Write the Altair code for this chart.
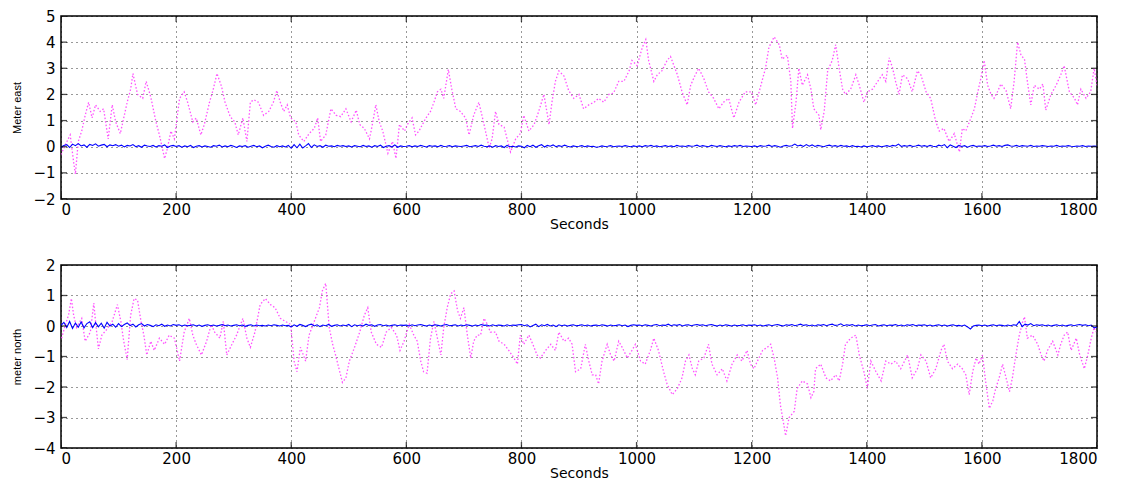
import altair as alt
import pandas as pd

SECONDS_TICKS = [0, 200, 400, 600, 800, 1000, 1200, 1400, 1600, 1800]
EAST_TICKS = [-2, -1, 0, 1, 2, 3, 4, 5]
NORTH_TICKS = [-4, -3, -2, -1, 0, 1, 2]
BLUE_STEP = 5

# magenta (dotted) trace, east component: (seconds, metres)
EAST_DOTTED = [(0,-0.3),(7,0.05),(16,0.45),(22,-0.6),(25,-1.05),(30,0.2),(36,0.6),(42,1.2),(48,1.7),(54,1.1),(60,1.6),(68,1.35),(74,1.45),(82,0.3),(89,1.6),(95,0.95),(103,0.5),(109,1.1),(115,1.7),(121,2.2),(125,2.8),(133,2.0),(142,1.85),(148,2.5),(156,1.9),(165,0.95),(171,0.45),(180,-0.45),(185,-0.05),(191,0.6),(197,0.3),(206,1.85),(214,2.1),(220,1.7),(229,0.95),(235,1.1),(243,0.45),(249,0.85),(258,1.7),(264,2.15),(271,2.8),(279,2.3),(285,1.7),(294,1.15),(302,0.95),(308,0.45),(316,1.1),(323,0.2),(329,1.7),(335,1.8),(343,1.7),(352,1.2),(361,1.35),(369,1.7),(375,2.15),(381,1.7),(387,1.35),(393,1.6),(399,1.1),(408,0.95),(413,0.45),(422,0.2),(431,0.5),(440,0.7),(446,1.1),(451,0.2),(460,0.45),(469,1.45),(478,1.2),(486,1.15),(495,1.45),(504,0.95),(513,1.4),(519,0.85),(527,0.7),(536,0.3),(541,0.85),(547,1.6),(553,0.95),(559,0.6),(568,-0.25),(576,0.2),(582,-0.45),(588,0.85),(597,0.6),(602,0.85),(610,1.1),(616,0.45),(622,0.6),(628,0.85),(634,1.1),(642,1.35),(648,1.7),(654,2.1),(660,2.2),(665,1.85),(673,2.95),(679,2.2),(686,1.45),(694,1.35),(703,1.1),(709,0.45),(717,1.2),(726,1.7),(735,0.85),(744,-0.05),(749,0.3),(755,1.35),(761,0.85),(770,0.75),(775,0.3),(781,-0.2),(790,0.3),(798,0.5),(804,1.2),(813,0.6),(822,0.85),(830,1.35),(839,2.0),(848,0.85),(853,1.7),(859,2.5),(865,2.9),(874,2.7),(882,2.15),(891,1.85),(900,2.0),(908,1.45),(917,1.6),(926,1.7),(934,1.85),(943,1.7),(952,2.0),(960,2.05),(969,2.5),(978,2.5),(987,2.9),(992,3.3),(1001,3.1),(1010,3.8),(1016,4.1),(1021,3.3),(1030,2.5),(1036,2.75),(1044,2.9),(1053,3.3),(1059,3.45),(1065,3.1),(1071,2.75),(1079,2.1),(1088,1.6),(1094,2.35),(1102,2.75),(1108,3.0),(1117,2.6),(1125,2.1),(1134,1.85),(1143,1.45),(1151,1.7),(1160,1.85),(1169,1.1),(1178,1.7),(1189,2.1),(1200,2.1),(1207,1.6),(1216,2.35),(1224,3.0),(1230,3.8),(1239,4.2),(1248,3.9),(1253,3.35),(1262,3.5),(1268,2.5),(1271,0.7),(1277,1.7),(1282,3.0),(1288,2.35),(1297,2.75),(1303,2.2),(1308,1.45),(1317,1.2),(1320,0.65),(1326,1.35),(1332,2.9),(1340,3.3),(1346,3.9),(1352,3.0),(1358,2.2),(1363,2.0),(1372,2.2),(1381,2.75),(1387,2.35),(1395,1.7),(1401,2.1),(1410,2.2),(1419,2.5),(1427,2.75),(1433,2.5),(1439,3.4),(1445,3.0),(1450,2.5),(1456,2.0),(1462,2.75),(1471,2.6),(1479,2.1),(1488,2.9),(1494,2.75),(1503,2.1),(1511,1.85),(1520,0.95),(1526,0.6),(1534,0.7),(1543,0.2),(1552,0.5),(1561,-0.2),(1566,0.7),(1572,0.6),(1581,1.1),(1587,1.45),(1592,2.0),(1598,2.6),(1604,3.3),(1610,2.35),(1616,2.0),(1621,1.85),(1627,2.1),(1633,2.4),(1642,2.15),(1650,1.45),(1656,2.5),(1662,4.0),(1668,3.5),(1674,3.35),(1679,2.5),(1685,1.6),(1691,2.35),(1700,2.2),(1706,2.4),(1711,1.4),(1720,2.0),(1729,2.35),(1737,2.75),(1743,3.1),(1752,2.1),(1761,1.85),(1766,1.6),(1772,2.2),(1781,1.85),(1789,2.1),(1795,3.0),(1800,2.35)]

# magenta (dotted) trace, north component
NORTH_DOTTED = [(1,-0.4),(7,0.0),(13,0.35),(18,0.9),(22,0.35),(27,-0.05),(36,0.25),(42,-0.5),(51,-0.2),(57,0.75),(60,0.15),(65,-0.75),(71,-0.3),(80,-0.1),(89,0.15),(98,0.7),(104,0.15),(109,-0.5),(115,-1.1),(121,0.35),(127,0.9),(133,0.85),(139,0.15),(144,-0.3),(149,-0.95),(156,-0.5),(162,-0.8),(171,-0.4),(180,-0.6),(188,-0.3),(197,-0.4),(206,-1.15),(214,-0.2),(223,0.25),(229,-0.3),(235,-0.6),(244,-0.95),(253,-0.5),(261,0.05),(267,-0.2),(276,-0.4),(282,0.15),(288,-0.95),(297,-0.6),(305,-0.3),(316,0.25),(323,-0.4),(329,-0.7),(337,-0.2),(346,0.7),(355,0.9),(364,0.7),(372,0.6),(381,0.25),(390,0.15),(399,0.05),(405,-1.15),(410,-1.5),(416,-0.7),(425,-1.15),(431,-0.3),(440,0.15),(449,0.6),(454,1.15),(460,1.4),(466,-0.05),(472,-0.6),(477,-0.95),(483,-1.4),(489,-1.85),(495,-1.7),(501,-1.15),(510,-0.7),(519,-0.2),(527,0.35),(533,0.6),(539,-0.2),(548,-0.6),(557,-0.7),(565,-0.2),(574,-0.05),(583,-0.3),(589,-0.8),(596,-0.5),(605,0.05),(613,-0.3),(619,-0.5),(625,-1.15),(630,-1.5),(636,-1.55),(642,-0.4),(648,0.15),(654,-0.4),(660,-0.95),(665,-0.05),(671,0.6),(677,1.05),(683,1.15),(689,0.5),(694,0.25),(700,0.6),(706,-0.3),(712,-1.05),(717,-0.5),(723,-0.3),(729,-0.3),(735,0.25),(741,0.05),(746,-0.2),(755,-0.2),(761,-0.5),(770,-0.6),(778,-0.8),(787,-1.05),(793,-1.25),(798,-0.3),(804,-0.6),(813,-0.3),(822,-0.7),(827,-0.95),(833,-1.05),(842,-0.8),(851,-0.6),(859,-0.8),(865,-0.2),(874,-0.5),(882,-0.4),(888,-0.6),(894,-1.5),(903,-1.4),(911,-0.6),(917,-1.15),(923,-1.6),(929,-1.6),(934,-1.9),(940,-1.15),(949,-0.6),(955,-0.95),(961,-1.15),(969,-0.5),(975,-0.7),(984,-1.05),(992,-0.8),(998,-0.6),(1007,-1.15),(1015,-1.25),(1024,-0.8),(1030,-0.4),(1038,-0.8),(1047,-1.5),(1053,-1.9),(1062,-2.25),(1071,-2.05),(1079,-1.7),(1085,-1.15),(1091,-0.95),(1097,-1.4),(1102,-1.6),(1108,-1.15),(1117,-1.05),(1125,-0.6),(1131,-1.25),(1140,-1.6),(1149,-1.4),(1157,-1.8),(1166,-1.25),(1175,-0.95),(1183,-1.15),(1192,-0.8),(1198,-1.25),(1204,-1.4),(1210,-1.15),(1219,-0.8),(1227,-0.7),(1233,-0.6),(1239,-1.05),(1245,-1.7),(1250,-2.6),(1256,-3.25),(1259,-3.6),(1265,-3.0),(1274,-2.8),(1279,-2.05),(1288,-1.8),(1297,-1.9),(1303,-2.35),(1308,-2.15),(1311,-1.4),(1320,-1.25),(1329,-1.7),(1337,-1.8),(1346,-1.6),(1352,-1.8),(1358,-1.25),(1363,-0.6),(1372,-0.4),(1381,-0.3),(1387,-0.95),(1395,-1.5),(1401,-2.05),(1407,-1.15),(1416,-1.5),(1425,-1.8),(1433,-1.15),(1442,-1.25),(1450,-1.15),(1459,-1.4),(1471,-0.95),(1479,-1.7),(1488,-1.4),(1494,-0.95),(1503,-1.15),(1511,-1.7),(1520,-1.4),(1529,-0.8),(1534,-0.6),(1540,-1.15),(1549,-1.4),(1558,-1.25),(1566,-1.4),(1572,-1.6),(1578,-2.25),(1584,-1.5),(1590,-1.05),(1595,-1.25),(1601,-0.95),(1607,-1.9),(1613,-2.7),(1619,-2.45),(1624,-2.05),(1630,-1.7),(1636,-1.25),(1642,-1.7),(1648,-2.15),(1653,-1.7),(1659,-0.95),(1665,-0.3),(1671,0.15),(1674,0.3),(1679,-0.4),(1688,-0.3),(1697,-0.6),(1703,-0.95),(1708,-1.15),(1714,-0.8),(1723,-0.5),(1732,-0.95),(1737,-0.6),(1743,-0.3),(1749,-0.2),(1755,-0.8),(1764,-0.4),(1770,-0.95),(1778,-1.4),(1784,-0.95),(1790,-0.4),(1795,-0.05),(1798,-0.2)]

# blue (solid) trace, east, every 5 s
EAST_SOLID = [
-0.02,0.05,0.08,-0.03,0.10,0.04,0.12,0.03,0.07,-0.02,0.09,0.05,0.11,0.02,0.06,0.09,0.00,0.07,0.04,0.08,
0.02,0.06,-0.01,0.05,0.03,0.08,0.00,0.04,-0.02,0.06,0.03,0.01,0.05,-0.01,0.04,0.02,0.07,-0.03,0.03,0.05,
0.01,0.04,-0.02,0.03,0.00,0.05,-0.03,0.02,0.04,-0.01,0.03,0.01,-0.02,0.04,0.02,0.06,-0.01,0.03,0.00,0.05,
0.02,-0.03,0.03,0.01,0.04,-0.02,0.02,0.05,0.00,0.03,-0.04,0.02,0.06,0.01,-0.02,0.04,0.00,0.03,-0.01,0.05,
-0.06,0.08,-0.04,0.10,-0.05,0.03,0.12,-0.03,0.07,0.01,0.04,-0.02,0.06,0.02,0.03,0.00,0.05,0.02,0.04,0.01,
0.03,-0.01,0.04,0.02,0.00,0.05,0.01,0.03,-0.02,0.04,0.01,0.06,-0.03,0.02,0.04,-0.01,0.07,-0.02,0.03,0.01,
0.02,0.04,0.00,0.03,0.01,0.05,0.02,-0.01,0.04,0.02,0.03,0.00,0.05,0.01,0.02,0.04,0.00,0.03,0.02,0.01,
0.03,0.05,0.00,0.02,0.04,0.01,0.06,0.02,0.00,0.03,-0.02,0.04,0.01,0.03,-0.03,0.05,0.00,0.02,-0.01,0.03,
0.02,-0.04,0.05,0.00,0.06,-0.02,0.04,0.08,-0.01,0.05,0.02,0.07,0.00,0.04,0.01,0.06,0.02,-0.01,0.03,0.01,
0.02,0.04,0.00,0.03,0.01,0.02,-0.02,0.00,0.03,0.01,0.02,0.04,0.00,0.02,0.03,0.01,0.04,0.02,0.00,0.03,
0.01,0.03,0.00,0.04,0.02,0.05,0.01,0.03,0.00,0.02,0.04,0.01,0.03,0.00,0.05,0.02,0.03,0.01,0.04,0.02,
0.03,0.06,0.01,0.04,0.02,0.00,0.05,0.03,0.01,0.04,0.02,0.00,0.03,0.01,0.04,0.02,0.05,0.01,0.03,0.02,
0.01,0.03,0.00,0.04,0.02,0.03,0.06,0.01,0.04,0.02,-0.02,0.03,0.05,0.02,0.04,0.10,0.03,0.06,0.01,0.08,
0.02,0.07,0.01,0.05,0.03,0.00,0.04,0.06,0.02,0.04,0.01,0.05,0.02,0.03,0.00,0.04,0.01,0.02,-0.01,0.03,
0.00,0.02,0.04,0.01,0.03,0.00,0.02,0.04,0.01,0.05,0.03,0.10,0.01,0.04,0.02,0.05,0.01,0.03,0.06,0.02,
0.04,0.01,0.05,0.02,0.00,0.06,0.03,0.08,-0.04,0.07,0.02,-0.03,0.05,0.01,0.04,-0.02,0.03,0.05,0.01,0.03,
0.02,0.04,0.01,0.03,0.06,0.02,0.04,0.01,0.05,0.07,0.03,0.02,0.05,0.01,0.04,0.03,0.02,0.05,0.01,0.03,
0.02,0.04,0.03,0.01,0.03,0.02,0.05,0.01,0.03,0.02,0.04,0.02,0.01,0.03,0.02,0.04,0.01,0.03,0.02,0.03,
0.02]

# blue (solid) trace, north, every 5 s
NORTH_SOLID = [
0.02,0.12,-0.05,0.15,-0.08,0.10,-0.04,0.13,-0.06,0.08,0.14,-0.05,0.11,-0.03,0.09,-0.07,0.12,0.00,0.06,-0.04,
0.08,-0.02,0.05,0.10,0.01,0.06,-0.03,0.04,0.08,0.00,0.05,0.02,-0.02,0.04,0.01,0.06,-0.01,0.03,0.00,0.05,
0.02,0.04,0.00,0.03,0.01,0.02,0.04,0.00,0.03,-0.01,0.02,0.04,0.01,0.03,0.00,0.02,0.05,0.01,0.03,0.00,
0.02,0.04,0.01,0.03,-0.01,0.02,0.04,0.00,0.03,0.01,0.02,0.00,0.03,0.01,0.04,0.02,0.00,0.03,0.01,0.02,
-0.03,0.04,-0.01,0.05,0.02,-0.02,0.03,0.06,0.00,0.04,-0.02,0.03,0.01,0.05,-0.01,0.02,0.04,0.00,0.03,0.01,
0.05,-0.02,0.04,0.01,0.03,0.00,0.06,0.02,0.04,-0.01,0.03,0.05,0.01,0.03,0.00,0.02,0.04,0.01,0.03,0.02,
0.03,0.00,0.04,0.01,0.03,0.05,0.02,0.00,0.03,0.01,0.04,0.02,0.00,0.03,0.05,0.01,0.02,0.04,0.00,0.03,
0.01,0.04,0.02,0.00,0.03,0.01,0.05,0.02,0.03,0.00,0.04,0.01,0.03,0.02,0.00,0.04,0.01,0.03,0.02,0.04,
0.05,0.01,0.04,-0.03,0.02,0.06,-0.02,0.04,0.01,0.05,0.00,0.03,-0.02,0.04,0.01,0.03,0.00,0.02,0.04,0.01,
0.02,0.04,0.01,0.03,0.00,0.02,0.03,0.01,0.04,0.02,0.00,0.03,0.01,0.02,0.04,0.01,0.03,-0.02,0.02,0.04,
0.02,0.03,0.01,0.04,0.02,0.00,0.03,0.05,0.01,0.03,0.02,0.06,0.01,0.04,0.02,0.05,0.00,0.03,0.04,0.01,
0.03,0.05,0.02,0.04,0.01,0.03,0.05,0.02,0.00,0.03,0.01,0.04,0.02,0.00,0.03,0.01,0.02,0.04,0.01,0.03,
0.02,0.04,0.01,0.03,0.00,0.02,0.04,0.01,0.03,0.05,0.02,0.00,0.04,0.02,0.05,0.01,0.03,0.06,0.02,0.04,
0.01,0.03,0.00,0.04,0.02,0.05,0.01,0.04,0.06,0.02,0.03,0.07,0.01,0.04,0.02,0.05,0.00,0.03,0.01,0.02,
0.04,0.01,0.03,0.05,0.00,0.02,0.04,0.01,0.03,0.02,0.05,0.01,0.03,0.00,0.04,0.02,0.05,0.01,0.03,0.02,
0.04,0.01,0.03,0.00,0.02,0.04,0.01,0.03,0.00,0.02,0.04,0.01,0.02,0.00,0.03,-0.03,-0.10,0.00,0.02,0.03,
0.01,0.03,0.00,0.02,0.04,0.01,0.03,0.02,0.00,0.03,0.01,0.04,0.02,0.15,-0.02,0.06,0.03,0.08,0.01,0.04,
0.02,0.04,0.01,0.03,0.00,0.02,0.04,0.01,0.03,0.00,0.02,0.04,0.01,0.03,0.05,0.02,0.04,0.01,0.03,-0.06,
-0.03]

FONT = "DejaVu Sans"
W, H = 1036, 183
X_MIN, X_MAX = SECONDS_TICKS[0], SECONDS_TICKS[-1]


def panel(dotted, solid, ticks, ytitle):
    dots = pd.DataFrame(dotted, columns=["t", "v"])
    solid_df = pd.DataFrame({"t": [i * BLUE_STEP for i in range(len(solid))], "v": solid})
    y_lo, y_hi = ticks[0], ticks[-1]
    xscale = alt.Scale(domain=[X_MIN, X_MAX], nice=False, zero=False)
    yscale = alt.Scale(domain=[y_lo, y_hi], nice=False, zero=False)
    x = alt.X("t:Q", scale=xscale,
              axis=alt.Axis(values=SECONDS_TICKS, title="Seconds", format="d"))
    y = alt.Y("v:Q", scale=yscale,
              axis=alt.Axis(values=ticks, title=ytitle, format="d"))

    # inward tick marks on all four sides (half of each tick is clipped away)
    ytick_df = pd.DataFrame(
        [{"t": X_MIN, "v": v} for v in ticks] + [{"t": X_MAX, "v": v} for v in ticks])
    xtick_df = pd.DataFrame(
        [{"t": s, "v": y_lo} for s in SECONDS_TICKS] + [{"t": s, "v": y_hi} for s in SECONDS_TICKS])
    yticks = alt.Chart(ytick_df).mark_tick(
        orient="horizontal", size=12, thickness=1.3, color="black", clip=True
    ).encode(x=x, y=y)
    xticks = alt.Chart(xtick_df).mark_tick(
        orient="vertical", size=12, thickness=1.3, color="black", clip=True
    ).encode(x=x, y=y)

    magenta = alt.Chart(dots).mark_line(
        color="#ff33ff", strokeWidth=1.3, strokeDash=[1.5, 2], opacity=0.85, clip=True
    ).encode(x=x, y=y)
    blue = alt.Chart(solid_df).mark_line(
        color="#0000ff", strokeWidth=1.1, clip=True
    ).encode(x=x, y=y)
    return alt.layer(magenta, blue, yticks, xticks).properties(width=W, height=H)


top = panel(EAST_DOTTED, EAST_SOLID, EAST_TICKS, "Meter east")
bottom = panel(NORTH_DOTTED, NORTH_SOLID, NORTH_TICKS, "meter north")

chart = alt.vconcat(top, bottom, spacing=25).properties(
    padding={"left": 3, "top": 0, "right": 5, "bottom": 0}
).configure_view(
    stroke="black", strokeWidth=1.5
).configure_axis(
    labelFont=FONT, labelFontSize=15, labelColor="black",
    titleFont=FONT, titleFontSize=14, titleFontWeight="normal", titleColor="black",
    grid=True, gridColor="black", gridDash=[1, 4], gridWidth=1, gridOpacity=0.8,
    domain=False, ticks=False, labelPadding=6,
).configure_axisX(
    titlePadding=0, labelPadding=3,
).configure_axisY(
    titleFont="Liberation Sans", titleFontSize=11, titlePadding=10,
)

chart.save("out.html", embed_options={"renderer": "svg", "actions": False})
